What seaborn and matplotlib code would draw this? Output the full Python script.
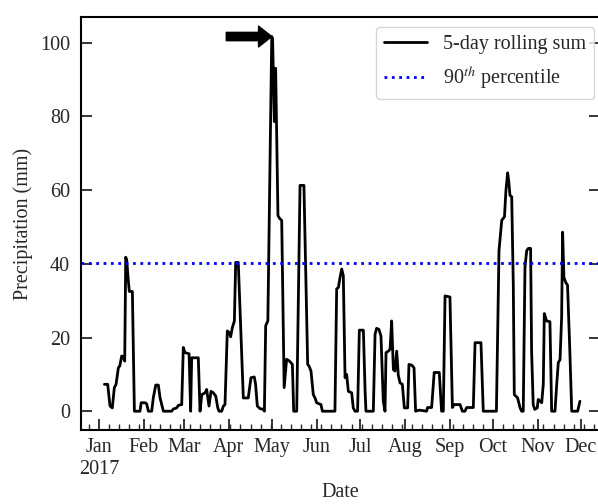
import numpy as np
import pandas as pd
import matplotlib
matplotlib.use("Agg")
import matplotlib.pyplot as plt
import matplotlib.dates as mdates
import seaborn as sns

# ---- data (breakpoints of the 5-day rolling sum, days after 2017-01-01) ----
day_offsets = [
    3.7, 6.0, 7.6, 9.2, 10.6, 11.8, 13.4, 14.4, 15.7, 16.8, 17.8, 18.5, 19.2, 20.3, 21.0, 23.1,
    24.5, 28.4, 29.2, 31.9, 33.0, 34.2, 36.5, 37.6, 39.3, 41.1, 42.3, 44.6, 50.3, 51.5, 53.8,
    55.0, 57.3, 58.4, 59.6, 62.4, 63.5, 64.2, 68.8, 70.0, 71.2, 73.5, 74.6, 76.2, 77.6, 79.2,
    80.9, 82.3, 83.2, 85.0, 86.2, 87.3, 88.9, 90.3, 91.2, 92.4, 93.8, 94.7, 96.5, 100.0, 103.4,
    105.3, 107.6, 108.5, 109.7, 111.6, 113.9, 114.6, 115.5, 117.0, 119.7, 120.3, 121.5, 122.4,
    124.0, 125.2, 126.6, 128.3, 130.0, 132.0, 134.0, 134.9, 137.0, 139.3, 142.0, 144.6, 145.5,
    146.9, 148.5, 149.7, 150.8, 153.8, 154.8, 163.5, 164.7, 165.9, 167.0, 168.2, 169.3, 170.5,
    171.6, 172.8, 175.1, 176.2, 177.4, 179.2, 180.4, 183.2, 184.4, 185.0, 190.1, 191.3, 192.4,
    194.0, 195.4, 197.0, 198.2, 198.9, 200.5, 201.7, 202.8, 204.0, 205.1, 206.3, 207.4, 208.6,
    210.2, 211.6, 213.9, 214.8, 216.7, 218.3, 219.4, 222.0, 227.0, 227.7, 230.5, 232.3, 235.8,
    237.4, 238.6, 239.8, 243.2, 244.9, 246.0, 250.2, 251.8, 253.6, 254.8, 259.4, 260.6, 264.7,
    266.3, 275.4, 277.2, 279.1, 281.0, 282.0, 283.2, 284.0, 284.8, 286.0, 287.1, 287.8, 290.1,
    291.8, 292.9, 294.0, 295.2, 296.4, 297.6, 299.1, 299.8, 300.9, 302.0, 303.7, 304.4, 306.8,
    307.9, 308.6, 310.2, 312.5, 313.7, 316.0, 317.2, 318.3, 319.5, 320.6, 321.3, 322.2, 323.4,
    324.7, 326.3, 327.6, 331.7, 333.3,
]
rolling_sum = [
    7.3, 7.3, 1.4, 0.9, 6.4, 7.3, 11.8, 12.3, 15.0, 14.7, 13.6, 41.8, 41.0, 35.4, 32.5, 32.5,
    0.0, 0.0, 2.3, 2.3, 2.0, 0.0, 0.0, 3.6, 7.1, 7.1, 3.6, 0.0, 0.0, 0.6, 0.9,
    1.6, 1.8, 17.3, 15.9, 15.6, 0.0, 14.5, 14.5, 0.0, 4.5, 5.0, 5.9, 1.4, 5.4, 5.0,
    4.1, 0.9, 0.0, 0.0, 1.4, 1.8, 21.8, 21.3, 20.2, 22.7, 24.5, 40.4, 40.4, 3.6, 3.6,
    9.1, 9.3, 7.3, 1.4, 0.7, 0.5, 0.0, 23.2, 24.5, 101.7, 101.0, 78.6, 93.1,
    53.1, 52.3, 51.8, 6.4, 14.1, 13.6, 12.7, 0.0, 0.0, 61.3, 61.3, 12.7, 12.3,
    10.9, 4.5, 3.6, 2.3, 1.8, 0.0, 0.0, 33.2, 33.6, 36.3, 38.6, 36.8, 9.1,
    10.0, 5.4, 5.0, 0.9, 0.0, 0.0, 22.0, 22.0, 5.4, 0.0, 0.0, 20.9, 22.5,
    22.2, 20.4, 2.7, 0.0, 15.9, 16.3, 16.8, 24.5, 11.3, 10.9, 16.3, 9.8, 7.7,
    7.3, 0.9, 0.9, 12.7, 12.5, 11.8, 0.0, 0.3, 0.0, 1.0, 1.0, 10.5, 10.5,
    0.0, 0.0, 31.3, 31.0, 1.0, 1.8, 1.8, 0.0, 0.0, 1.0, 1.0, 18.6, 18.6,
    0.0, 0.0, 43.6, 51.8, 52.8, 59.9, 64.7, 62.3, 58.6, 58.2, 34.5, 4.5, 3.6,
    0.9, 0.0, 0.0, 39.0, 43.6, 44.2, 44.2, 16.3, 1.8, 0.5, 0.9, 3.2, 2.3,
    7.3, 26.5, 24.5, 24.3, 0.0, 0.0, 7.3, 13.2, 14.0, 25.4, 48.6, 36.3, 35.0,
    34.2, 16.3, 0.0, 0.0, 2.7,
]
percentile_90 = 40.2
month_starts = ["2017-01-01", "2017-02-01", "2017-03-01", "2017-04-01", "2017-05-01", "2017-06-01",
                "2017-07-01", "2017-08-01", "2017-09-01", "2017-10-01", "2017-11-01", "2017-12-01"]
month_labels = ["Jan\n2017", "Feb", "Mar", "Apr", "May", "Jun",
                "Jul", "Aug", "Sep", "Oct", "Nov", "Dec"]
y_ticks = [0, 20, 40, 60, 80, 100]

start = pd.Timestamp("2017-01-01")
df = pd.DataFrame({
    "Date": start + pd.to_timedelta(np.array(day_offsets), unit="D"),
    "Precipitation": rolling_sum,
})

sns.set_style("ticks")
plt.rcParams["font.family"] = ["Liberation Serif", "DejaVu Serif"]
plt.rcParams["mathtext.fontset"] = "stix"
FS = 14.5

fig = plt.figure(figsize=(5.98, 5.04), dpi=100)
# right spine lies just beyond the image edge, as in the reference crop
ax = fig.add_axes([81 / 598, 74 / 504, 519 / 598, 413 / 504])

sns.lineplot(data=df, x="Date", y="Precipitation", ax=ax, color="black",
             linewidth=2.0, label="5-day rolling sum")
ax.axhline(percentile_90, color="blue", linestyle=":", linewidth=2.0,
           label="90$^{th}$ percentile")

peak_idx = int(np.argmax(rolling_sum))
peak_date = df["Date"].iloc[peak_idx]
peak_val = rolling_sum[peak_idx]
ax.annotate("", xy=(peak_date, peak_val),
            xytext=(peak_date - pd.Timedelta(days=31.5), peak_val),
            arrowprops=dict(facecolor="black", edgecolor="black",
                            width=6, headwidth=15, headlength=9.5, shrink=0))

ax.set_xlim(start - pd.Timedelta(days=12.5), start + pd.Timedelta(days=347.2))
ax.set_ylim(-5.1, 107.0)

ax.set_xticks(pd.to_datetime(month_starts))
ax.set_xticklabels(month_labels)
ax.xaxis.set_minor_locator(mdates.WeekdayLocator(byweekday=mdates.SU))
ax.set_yticks(y_ticks)

ax.tick_params(axis="both", which="major", direction="in", length=8, width=1.3,
               labelsize=FS, right=True, top=False)
ax.tick_params(axis="x", which="major", pad=6)
ax.tick_params(axis="y", which="major", pad=8)
ax.tick_params(axis="x", which="minor", direction="in", length=4, width=1.0, top=False)

for sp in ax.spines.values():
    sp.set_linewidth(1.5)
    sp.set_color("black")

ax.set_xlabel("Date", fontsize=FS, labelpad=3)
ax.set_ylabel("Precipitation (mm)", fontsize=FS, labelpad=5)

leg = ax.legend(loc="upper right", bbox_to_anchor=(513 / 519, 403 / 413),
                borderaxespad=0.0, fontsize=FS, frameon=True, fancybox=True,
                handlelength=2.1, labelspacing=0.5)
leg.get_frame().set_edgecolor("#cccccc")
leg.get_frame().set_linewidth(1.0)

fig.savefig("out.png", dpi=100)
